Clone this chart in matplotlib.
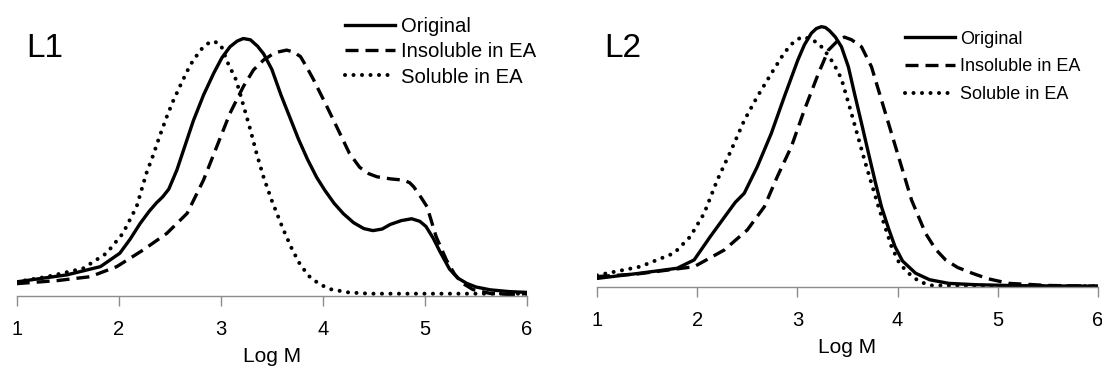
import matplotlib.pyplot as plt

plt.rcParams['font.family'] = ['Liberation Sans', 'DejaVu Sans']

# ---- L1 data (Log M, normalised signal) ----
l1_orig_x = [1.0, 1.49, 1.82, 2.01, 2.11, 2.21, 2.30, 2.37, 2.43, 2.49, 2.57, 2.65, 2.73, 2.83, 2.93, 3.01, 3.09, 3.16, 3.22,
             3.29, 3.36, 3.42, 3.50, 3.59, 3.68, 3.76, 3.85, 3.94, 4.02, 4.11, 4.20, 4.30, 4.40, 4.49, 4.58,
             4.66, 4.77, 4.87, 4.95, 5.01, 5.08, 5.15, 5.24, 5.32, 5.41, 5.50, 5.64, 5.83, 6.0]
l1_orig_y = [0.055, 0.082, 0.114, 0.166, 0.22, 0.282, 0.33, 0.362, 0.385, 0.415, 0.49, 0.585, 0.68, 0.78, 0.865, 0.925, 0.968, 0.99, 1.0,
             0.995, 0.97, 0.94, 0.88, 0.78, 0.69, 0.61, 0.53, 0.46, 0.41, 0.36, 0.32, 0.285, 0.262, 0.254, 0.26,
             0.278, 0.293, 0.30, 0.29, 0.27, 0.225, 0.17, 0.105, 0.07, 0.049, 0.035, 0.024, 0.017, 0.014]

l1_insol_x = [1.0, 1.40, 1.72, 1.98, 2.24, 2.47, 2.67, 2.83, 2.96, 3.09, 3.22, 3.32, 3.42, 3.53, 3.645, 3.71,
              3.78, 3.84, 3.91, 4.04, 4.15, 4.26, 4.36, 4.45, 4.53, 4.66, 4.79, 4.85, 4.89, 4.95, 5.02,
              5.11, 5.21, 5.29, 5.37, 5.47, 5.64, 5.83, 6.0]
l1_insol_y = [0.048, 0.06, 0.075, 0.114, 0.179, 0.243, 0.321, 0.45, 0.58, 0.71, 0.813, 0.878, 0.917, 0.945, 0.955, 0.948,
              0.93, 0.89, 0.839, 0.735, 0.645, 0.554, 0.50, 0.475, 0.463, 0.455, 0.45, 0.44, 0.424, 0.39, 0.347,
              0.23, 0.14, 0.085, 0.049, 0.025, 0.01, 0.006, 0.009]

l1_sol_x = [1.0, 1.3, 1.65, 1.88, 2.04, 2.175, 2.27, 2.34, 2.40, 2.47, 2.53, 2.62, 2.70, 2.80, 2.87, 2.93, 3.00,
            3.07, 3.15, 3.22, 3.29, 3.35, 3.42, 3.50, 3.61, 3.70, 3.78, 3.87, 3.97, 4.08, 4.25, 4.46, 5.0, 6.0]
l1_sol_y = [0.055, 0.075, 0.107, 0.166, 0.243, 0.347, 0.476, 0.55, 0.62, 0.696, 0.755, 0.832, 0.897, 0.955, 0.98, 0.99, 0.975,
            0.904, 0.839, 0.742, 0.645, 0.554, 0.46, 0.37, 0.26, 0.18, 0.12, 0.075, 0.045, 0.026, 0.014, 0.009, 0.009, 0.009]

# ---- L2 data ----
l2_orig_x = [1.0, 1.43, 1.80, 1.97, 2.13, 2.30, 2.38, 2.47, 2.60, 2.74, 2.87, 3.005, 3.07, 3.14, 3.19, 3.24,
             3.28, 3.32, 3.38, 3.44, 3.51, 3.57, 3.64, 3.71, 3.78, 3.84, 3.91, 3.975, 4.05, 4.18, 4.32, 4.51,
             4.77, 5.2, 6.0]
l2_orig_y = [0.033, 0.053, 0.072, 0.104, 0.193, 0.283, 0.325, 0.36, 0.462, 0.59, 0.731, 0.872, 0.93, 0.975, 0.993, 1.0,
             0.997, 0.985, 0.96, 0.923, 0.845, 0.744, 0.63, 0.514, 0.40, 0.308, 0.225, 0.155, 0.10, 0.053, 0.028, 0.014,
             0.009, 0.005, 0.003]

l2_insol_x = [1.0, 1.4, 1.97, 2.12, 2.27, 2.50, 2.67, 2.80, 2.94, 3.07, 3.21, 3.31, 3.40, 3.47,
              3.54, 3.64, 3.74, 3.84, 3.94, 4.04, 4.14, 4.28, 4.38, 4.48, 4.60, 4.745, 4.90, 5.11, 5.5, 6.0]
l2_insol_y = [0.04, 0.05, 0.078, 0.11, 0.142, 0.219, 0.308, 0.424, 0.539, 0.68, 0.82, 0.91, 0.945, 0.96,
              0.95, 0.923, 0.846, 0.718, 0.59, 0.462, 0.334, 0.206, 0.145, 0.104, 0.075, 0.053, 0.032, 0.014, 0.006, 0.003]

l2_sol_x = [1.0, 1.43, 1.77, 1.93, 2.07, 2.20, 2.34, 2.47, 2.60, 2.74, 2.87, 2.96, 3.04, 3.12,
            3.21, 3.27, 3.36, 3.44, 3.54, 3.67, 3.81, 3.94, 4.02, 4.11, 4.22, 4.34, 5.0, 6.0]
l2_sol_y = [0.045, 0.078, 0.13, 0.193, 0.283, 0.41, 0.526, 0.64, 0.731, 0.82, 0.90, 0.94, 0.96, 0.955,
            0.936, 0.91, 0.86, 0.80, 0.667, 0.488, 0.308, 0.155, 0.09, 0.053, 0.02, 0.006, 0.004, 0.003]

labels = ['Original', 'Insoluble in EA', 'Soluble in EA']
styles = [dict(linestyle='-', lw=2.4),
          dict(linestyle=(0, (3.9, 2.1)), dash_capstyle='butt', lw=2.4),
          dict(linestyle=(0, (0.01, 2.1)), dash_capstyle='round', lw=2.9)]

fig = plt.figure(figsize=(11.02, 3.69), dpi=100)

# name, axes rect, series, legend anchor (figure), panel label pos (figure), legend fontsize, row gap
panels = [
    ('L1', [0.01515, 0.1978, 0.4631, 0.7676],
     [(l1_orig_x, l1_orig_y), (l1_insol_x, l1_insol_y), (l1_sol_x, l1_sol_y)],
     (0.313, 0.955), (0.0239, 0.8455), 14.6, 0.32),
    ('L2', [0.5417, 0.2222, 0.4546, 0.776],
     [(l2_orig_x, l2_orig_y), (l2_insol_x, l2_insol_y), (l2_sol_x, l2_sol_y)],
     (0.8212, 0.917), (0.5485, 0.8455), 13.0, 0.6),
]

for name, rect, series, leg_pos, name_pos, leg_fs, gap in panels:
    ax = fig.add_axes(rect)
    for (x, y), lab, st in zip(series, labels, styles):
        ax.plot(x, y, color='black', label=lab, **st)
    ax.set_xlim(1, 6)
    ax.set_ylim(0, 1.1)
    for s in ['top', 'right', 'left']:
        ax.spines[s].set_visible(False)
    ax.spines['bottom'].set_color('#8c8c8c')
    ax.spines['bottom'].set_linewidth(1.0)
    ax.set_yticks([])
    ax.set_xticks([1, 2, 3, 4, 5, 6])
    ax.tick_params(axis='x', direction='out', length=7, width=1.0, color='#8c8c8c',
                   labelsize=14.5, pad=10)
    ax.set_xlabel('Log M', fontsize=15, labelpad=6)
    fig.text(name_pos[0], name_pos[1], name, fontsize=24, ha='left', va='baseline')
    ax.legend(loc='upper left', bbox_to_anchor=leg_pos, bbox_transform=fig.transFigure,
              frameon=False, fontsize=leg_fs, handlelength=50 / (leg_fs * 1.389), handletextpad=0.3,
              labelspacing=gap, borderaxespad=0, borderpad=0)

fig.savefig('out.png', dpi=100)
